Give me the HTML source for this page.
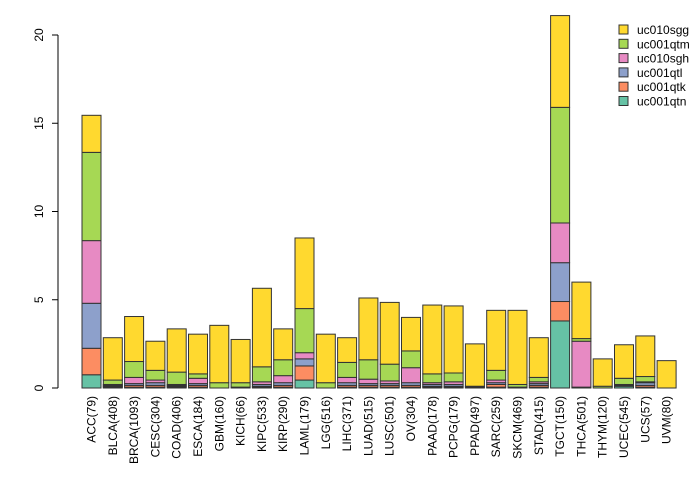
<!DOCTYPE html>
<html><head><meta charset="utf-8"><style>
body{margin:0;background:#fff}
text{font-family:"Liberation Sans",sans-serif;font-size:12px;fill:#000}
</style></head><body>
<svg id="chart" width="700" height="480" xmlns="http://www.w3.org/2000/svg"></svg>
<script>
const categories=["ACC(79)","BLCA(408)","BRCA(1093)","CESC(304)","COAD(406)","ESCA(184)","GBM(160)","KICH(66)","KIPC(533)","KIRP(290)","LAML(179)","LGG(516)","LIHC(371)","LUAD(515)","LUSC(501)","OV(304)","PAAD(178)","PCPG(179)","PPAD(497)","SARC(259)","SKCM(469)","STAD(415)","TGCT(150)","THCA(501)","THYM(120)","UCEC(545)","UCS(57)","UVM(80)"];
const seriesNames=["uc001qtn","uc001qtk","uc001qtl","uc010sgh","uc001qtm","uc010sgg"];
const uc001qtn=[0.75,0.05,0.05,0.05,0.05,0.05,0,0.05,0.05,0.05,0.45,0,0.05,0.05,0.05,0.05,0.05,0.05,0.05,0.05,0.05,0.05,3.8,0.05,0,0.1,0.05,0];
const uc001qtk=[1.5,0.05,0.1,0.1,0.05,0.1,0,0,0.05,0.1,0.8,0,0.1,0.1,0.1,0.1,0.05,0.05,0,0.15,0,0.1,1.1,0,0,0.05,0.1,0];
const uc001qtl=[2.55,0.05,0.1,0.15,0.05,0.1,0,0,0.1,0.15,0.4,0,0.15,0.1,0.1,0.15,0.1,0.1,0,0.1,0,0.1,2.2,0,0,0.05,0.15,0];
const uc010sgh=[3.55,0.05,0.35,0.15,0.05,0.3,0,0,0.15,0.4,0.35,0,0.3,0.25,0.15,0.85,0.1,0.15,0,0.15,0,0.1,2.25,2.6,0,0,0.05,0];
const uc001qtm=[5.0,0.25,0.9,0.55,0.7,0.25,0.3,0.25,0.85,0.9,2.5,0.3,0.85,1.1,0.95,0.95,0.5,0.5,0.05,0.55,0.15,0.25,6.55,0.15,0.1,0.35,0.3,0];
const uc010sgg=[2.1,2.4,2.55,1.65,2.45,2.25,3.25,2.45,4.45,1.75,4.0,2.75,1.4,3.5,3.5,1.9,3.9,3.8,2.4,3.4,4.2,2.25,5.2,3.2,1.55,1.9,2.3,1.55];
const yTicks=[0,5,10,15,20];
const series=[uc001qtn,uc001qtk,uc001qtl,uc010sgh,uc001qtm,uc010sgg];
const colors=["#66C2A5","#FC8D62","#8DA0CB","#E78AC3","#A6D854","#FFD92F"];
const svg=document.getElementById('chart');const NS="http://www.w3.org/2000/svg";
function mk(t,a,p){const e=document.createElementNS(NS,t);for(const k in a)e.setAttribute(k,a[k]);(p||svg).appendChild(e);return e;}
const y=v=>388-v*17.65, x=i=>82+i*21.3, bw=19;
mk('line',{x1:58,y1:y(0),x2:58,y2:y(20),stroke:'#000'});
yTicks.forEach(t=>{const l=mk('line',{x1:52,x2:58,y1:y(t),y2:y(t),stroke:'#000'});


const tx=mk('text',{x:0,y:0,transform:`translate(43,${y(t)}) rotate(-90)`,'text-anchor':'middle'});tx.textContent=t;

});
categories.forEach((c,i)=>{let acc=0;
series.forEach((s,k)=>{const v=s[i];if(v<=0)return;const r=mk('rect',{x:x(i),y:y(acc+v),width:bw,height:v*17.65,fill:colors[k],stroke:'#333','stroke-width':1});acc+=v;

});
const tx=mk('text',{x:0,y:0,transform:`translate(${x(i)+bw/2+4},396) rotate(-90)`,'text-anchor':'end'});tx.textContent=c;

});
for(let k=5;k>=0;k--){const r=(5-k);const yy=25+r*14.3;
const b=mk('rect',{x:619,y:yy,width:9,height:9,fill:colors[k],stroke:'#333'});


const t=mk('text',{x:637,y:yy+9});t.textContent=seriesNames[k];

}
</script></body></html>
